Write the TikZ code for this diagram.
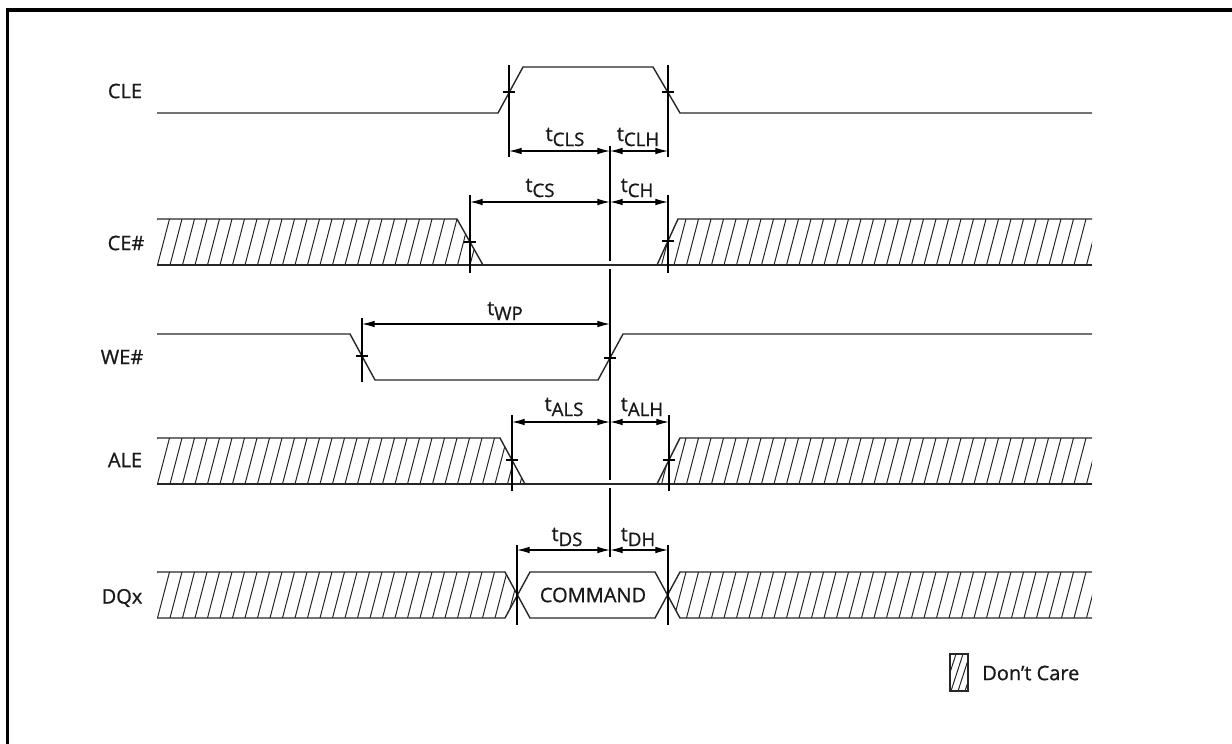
\documentclass[tikz,border=0pt]{standalone}
\usepackage{fontspec}
\setmainfont{Open Sans}
\newfontfamily\lblfont{Open Sans}[FakeBold=0.9]
\usetikzlibrary{arrows.meta}
\newcommand\tsub[1]{t\raisebox{-3.8pt}{\fontsize{14}{16}\selectfont #1}}
\begin{document}
\begin{tikzpicture}[x=0.75pt,y=-0.75pt,
  sig/.style={line width=1.05pt, draw=black!85},
  hatch/.style={line width=0.75pt, draw=black!85},
  tick/.style={line width=0.85pt},
  dim/.style={line width=0.85pt, {Latex[length=9.5pt,width=5pt]}-{Latex[length=9.5pt,width=5pt]}},
  lbl/.style={font=\lblfont\fontsize{15}{17}\selectfont, inner sep=0pt, text=black!90},
  tl/.style={font=\lblfont\fontsize{15}{17}\selectfont, inner sep=0pt, text=black!90}]
\useasboundingbox (0,0) rectangle (1232,743);
% frame
\draw[line width=2.3pt] (7.5,746) -- (7.5,10) -- (1236,10);

% signal names
\node[lbl] (cle) at (125,91) {CLE};
\node[lbl] (ce) at (126,243) {CE\#};
\node[lbl] (we) at (122,357) {WE\#};
\node[lbl] (ale) at (125,460) {ALE};
\node[lbl] (dq) at (122,598) {DQx};

% ---------- CLE ----------
\draw[sig] (157,113) -- (498,113) -- (523,67) -- (653,67) -- (680,113) -- (1092,113);
\coordinate (cleA) at (509,151);
\coordinate (cleM) at (610,151);
\coordinate (cleB) at (668,151);
\draw[tick] (509,65) -- (509,157);
\draw[tick] (503,92) -- (515,92);
\draw[tick] (668,65) -- (668,157);
\draw[tick] (662,92) -- (674,92);
\draw[dim] (cleA) -- (cleM);
\draw[dim] (cleM) -- (cleB);
\node[tl] (tcls) at (565,137) {\tsub{CLS}};
\node[tl] (tclh) at (638,137) {\tsub{CLH}};

% ---------- CE# ----------
\begin{scope}
\clip (157,219) -- (457,219) -- (483,265) -- (157,265) -- cycle;
\foreach \x in {145,157.5,...,500} \draw[hatch] (\x,265) -- (\x+12,219);
\end{scope}
\begin{scope}
\clip (657,265) -- (678,219) -- (1092,219) -- (1092,265) -- cycle;
\foreach \x in {649,661.5,...,1100} \draw[hatch] (\x,265) -- (\x+12,219);
\end{scope}
\draw[sig] (157,219) -- (457,219) -- (483,265);
\draw[sig] (157,265) -- (1092,265);
\draw[sig] (657,265) -- (678,219) -- (1092,219);
\coordinate (ceA) at (470,202);
\coordinate (ceM) at (610,202);
\coordinate (ceB) at (668,202);
\draw[tick] (470,195) -- (470,273);
\draw[tick] (464,242) -- (476,242);
\draw[tick] (668,195) -- (668,273);
\draw[tick] (662,241) -- (674,241);
\draw[dim] (ceA) -- (ceM);
\draw[dim] (ceM) -- (ceB);
\node[tl] (tcs) at (540,188) {\tsub{CS}};
\node[tl] (tch) at (637,188) {\tsub{CH}};

% ---------- WE# ----------
\draw[sig] (157,334) -- (350,334) -- (375,380) -- (598,380) -- (623,334) -- (1092,334);
\coordinate (weA) at (362,324);
\coordinate (weM) at (610,324);
\draw[tick] (362,318) -- (362,382);
\draw[tick] (356,356) -- (368,356);
\draw[tick] (604,358) -- (616,358);
\draw[dim] (weA) -- (weM);
\node[tl] (twp) at (505,311) {\tsub{WP}};

% ---------- ALE ----------
\begin{scope}
\clip (157,438) -- (500,438) -- (525,484) -- (157,484) -- cycle;
\foreach \x in {145,157.5,...,530} \draw[hatch] (\x,484) -- (\x+12,438);
\end{scope}
\begin{scope}
\clip (657,484) -- (680,438) -- (1092,438) -- (1092,484) -- cycle;
\foreach \x in {649,661.5,...,1100} \draw[hatch] (\x,484) -- (\x+12,438);
\end{scope}
\draw[sig] (157,438) -- (500,438) -- (525,484);
\draw[sig] (157,484) -- (1092,484);
\draw[sig] (657,484) -- (680,438) -- (1092,438);
\coordinate (aleA) at (512,422);
\coordinate (aleM) at (610,422);
\coordinate (aleB) at (669,422);
\draw[tick] (512,415) -- (512,491);
\draw[tick] (506,460) -- (518,460);
\draw[tick] (669,415) -- (669,491);
\draw[tick] (663,460) -- (675,460);
\draw[dim] (aleA) -- (aleM);
\draw[dim] (aleM) -- (aleB);
\node[tl] (tals) at (564,407) {\tsub{ALS}};
\node[tl] (talh) at (642,407) {\tsub{ALH}};

% ---------- DQx ----------
\begin{scope}
\clip (157,572) -- (505,572) -- (517.5,595) -- (505,618) -- (157,618) -- cycle;
\foreach \x in {145,157.5,...,530} \draw[hatch] (\x,618) -- (\x+12,572);
\end{scope}
\begin{scope}
\clip (667.5,595) -- (680,572) -- (1092,572) -- (1092,618) -- (680,618) -- cycle;
\foreach \x in {649,661.5,...,1100} \draw[hatch] (\x,618) -- (\x+12,572);
\end{scope}
\draw[sig] (157,572) -- (505,572) -- (530,618) -- (655,618) -- (680,572) -- (1092,572);
\draw[sig] (157,618) -- (505,618) -- (530,572) -- (655,572) -- (680,618) -- (1092,618);
\node[lbl] (cmd) at (593,595) {COMMAND};
\coordinate (dqA) at (517,550);
\coordinate (dqM) at (610,550);
\coordinate (dqB) at (668,550);
\draw[tick] (517,545) -- (517,625);
\draw[tick] (668,545) -- (668,625);
\draw[dim] (dqA) -- (dqM);
\draw[dim] (dqM) -- (dqB);
\node[tl] (tds) at (567,537) {\tsub{DS}};
\node[tl] (tdh) at (638,537) {\tsub{DH}};

% centre reference line
\draw[tick] (610,146) -- (610,261);
\draw[tick] (610,269) -- (610,480);
\draw[tick] (610,488) -- (610,557);

% legend
\begin{scope}
\clip (950,654) rectangle (968,691);
\foreach \x in {930,937,...,975} \draw[hatch] (\x,691) -- (\x+12,654);
\end{scope}
\draw[sig] (950,654) rectangle (968,691);
\node[lbl, anchor=west] (dc) at (982,673) {Don’t Care};
\end{tikzpicture}
\end{document}
